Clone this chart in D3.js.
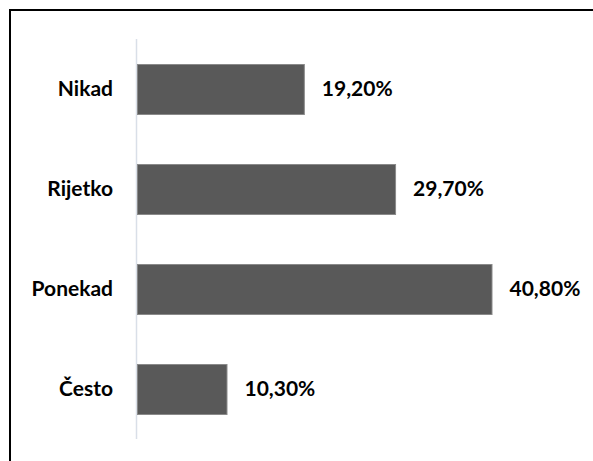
<!DOCTYPE html>
<html>
<head>
<meta charset="utf-8">
<script src="https://cdn.jsdelivr.net/npm/d3@7"></script>
<style>
  html, body { margin: 0; padding: 0; background: #fff; }
  svg { display: block; }
</style>
</head>
<body>
<script>
const categories = ["Nikad", "Rijetko", "Ponekad", "Često"];
const values = [19.2, 29.7, 40.8, 10.3];
const valueLabels = ["19,20%", "29,70%", "40,80%", "10,30%"];

const W = 593, H = 461;
const svg = d3.select("body").append("svg").attr("width", W).attr("height", H);

// outer frame (top and left edges visible)
svg.append("line").attr("x1", 9.5).attr("x2", W).attr("y1", 10).attr("y2", 10)
  .attr("stroke", "#000").attr("stroke-width", 2);
svg.append("line").attr("x1", 10).attr("x2", 10).attr("y1", 9).attr("y2", H)
  .attr("stroke", "#000").attr("stroke-width", 2);

const x = d3.scaleLinear().domain([0, 45]).range([137, 528]);
const y = d3.scaleBand().domain(categories).range([39, 439]).paddingInner(0.5).paddingOuter(0.25);

// category axis line
svg.append("line").attr("x1", 136.5).attr("x2", 136.5).attr("y1", 39).attr("y2", 439)
  .attr("stroke", "#d9dfe8").attr("stroke-width", 1.5);

const data = categories.map((c, i) => ({ c, v: values[i], label: valueLabels[i] }));

svg.selectAll("rect.bar").data(data).enter().append("rect")
  .attr("class", "bar")
  .attr("x", x(0) + 0.5)
  .attr("y", d => y(d.c) + 0.5)
  .attr("width", d => x(d.v) - x(0))
  .attr("height", y.bandwidth())
  .attr("fill", "#595959")
  .attr("stroke", "#8a8a8a")
  .attr("stroke-width", 1);

const font = "Lato, 'Open Sans', sans-serif";

svg.selectAll("text.cat").data(data).enter().append("text")
  .attr("class", "cat")
  .attr("x", 113)
  .attr("y", d => y(d.c) + y.bandwidth() / 2)
  .attr("dy", "0.35em")
  .attr("text-anchor", "end")
  .attr("font-family", font)
  .attr("font-weight", "bold")
  .attr("font-size", 21)
  .attr("fill", "#000")
  .text(d => d.c);

svg.selectAll("text.val").data(data).enter().append("text")
  .attr("class", "val")
  .attr("x", d => x(d.v) + 18)
  .attr("y", d => y(d.c) + y.bandwidth() / 2)
  .attr("dy", "0.35em")
  .attr("text-anchor", "start")
  .attr("font-family", font)
  .attr("font-weight", "bold")
  .attr("font-size", 21)
  .attr("fill", "#000")
  .text(d => d.label);
</script>
</body>
</html>
